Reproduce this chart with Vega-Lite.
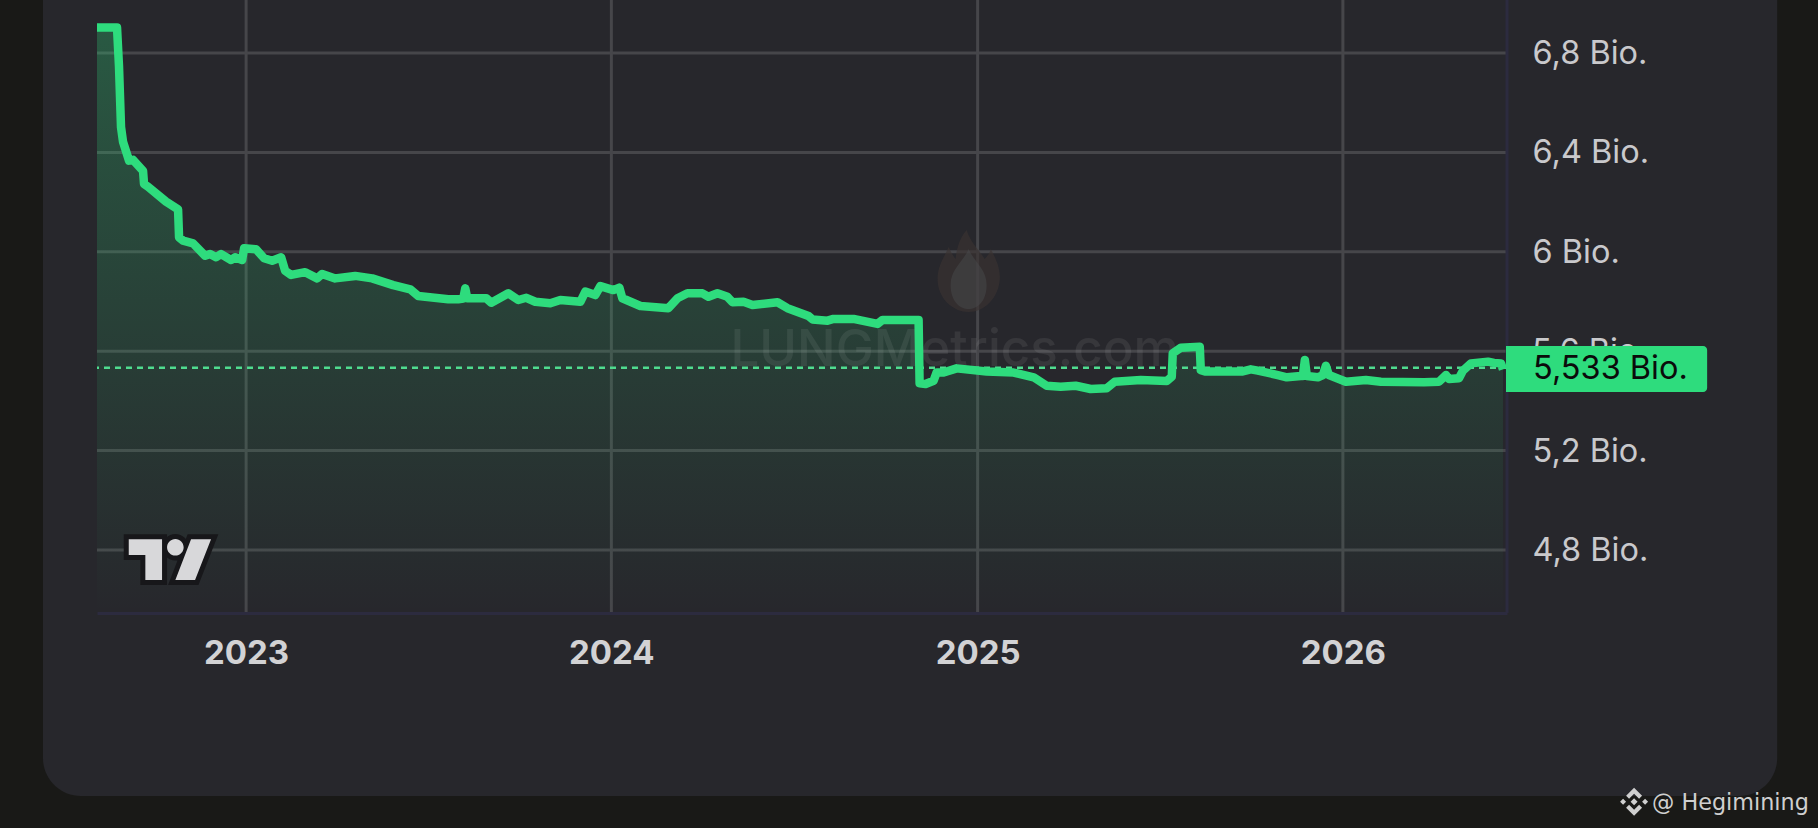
{
  "$schema": "https://vega.github.io/schema/vega-lite/v6.json",
  "width": 1410,
  "height": 613,
  "autosize": {"type": "none"},
  "padding": {"left": 97, "top": 0, "right": 311, "bottom": 215},
  "background": "#191917",
  "view": {"stroke": null},
  "data": {"values": [{}]},
  "datasets": {
    "supply": [
      {"date": "2022-08-05", "supply_bn": 6.903},
      {"date": "2022-08-25", "supply_bn": 6.903},
      {"date": "2022-08-27", "supply_bn": 6.745},
      {"date": "2022-08-29", "supply_bn": 6.502},
      {"date": "2022-08-31", "supply_bn": 6.443},
      {"date": "2022-09-06", "supply_bn": 6.367},
      {"date": "2022-09-10", "supply_bn": 6.37},
      {"date": "2022-09-20", "supply_bn": 6.326},
      {"date": "2022-09-21", "supply_bn": 6.273},
      {"date": "2022-09-25", "supply_bn": 6.262},
      {"date": "2022-10-13", "supply_bn": 6.202},
      {"date": "2022-10-25", "supply_bn": 6.171},
      {"date": "2022-10-26", "supply_bn": 6.058},
      {"date": "2022-10-30", "supply_bn": 6.045},
      {"date": "2022-11-09", "supply_bn": 6.034},
      {"date": "2022-11-21", "supply_bn": 5.984},
      {"date": "2022-11-26", "supply_bn": 5.991},
      {"date": "2022-12-02", "supply_bn": 5.978},
      {"date": "2022-12-07", "supply_bn": 5.991},
      {"date": "2022-12-17", "supply_bn": 5.967},
      {"date": "2022-12-21", "supply_bn": 5.978},
      {"date": "2022-12-28", "supply_bn": 5.967},
      {"date": "2022-12-30", "supply_bn": 6.014},
      {"date": "2023-01-11", "supply_bn": 6.01},
      {"date": "2023-01-19", "supply_bn": 5.974},
      {"date": "2023-01-27", "supply_bn": 5.964},
      {"date": "2023-02-05", "supply_bn": 5.978},
      {"date": "2023-02-09", "supply_bn": 5.924},
      {"date": "2023-02-15", "supply_bn": 5.907},
      {"date": "2023-03-01", "supply_bn": 5.918},
      {"date": "2023-03-13", "supply_bn": 5.893},
      {"date": "2023-03-18", "supply_bn": 5.911},
      {"date": "2023-03-31", "supply_bn": 5.893},
      {"date": "2023-04-20", "supply_bn": 5.903},
      {"date": "2023-05-07", "supply_bn": 5.893},
      {"date": "2023-05-28", "supply_bn": 5.866},
      {"date": "2023-06-14", "supply_bn": 5.849},
      {"date": "2023-06-22", "supply_bn": 5.822},
      {"date": "2023-07-22", "supply_bn": 5.809},
      {"date": "2023-08-01", "supply_bn": 5.809},
      {"date": "2023-08-06", "supply_bn": 5.812},
      {"date": "2023-08-08", "supply_bn": 5.853},
      {"date": "2023-08-10", "supply_bn": 5.813},
      {"date": "2023-08-29", "supply_bn": 5.813},
      {"date": "2023-09-03", "supply_bn": 5.795},
      {"date": "2023-09-20", "supply_bn": 5.833},
      {"date": "2023-09-30", "supply_bn": 5.806},
      {"date": "2023-10-08", "supply_bn": 5.815},
      {"date": "2023-10-17", "supply_bn": 5.799},
      {"date": "2023-11-01", "supply_bn": 5.793},
      {"date": "2023-11-11", "supply_bn": 5.806},
      {"date": "2023-12-01", "supply_bn": 5.799},
      {"date": "2023-12-06", "supply_bn": 5.84},
      {"date": "2023-12-16", "supply_bn": 5.826},
      {"date": "2023-12-21", "supply_bn": 5.862},
      {"date": "2024-01-03", "supply_bn": 5.846},
      {"date": "2024-01-09", "supply_bn": 5.856},
      {"date": "2024-01-12", "supply_bn": 5.813},
      {"date": "2024-01-30", "supply_bn": 5.782},
      {"date": "2024-02-27", "supply_bn": 5.773},
      {"date": "2024-03-07", "supply_bn": 5.813},
      {"date": "2024-03-17", "supply_bn": 5.833},
      {"date": "2024-04-01", "supply_bn": 5.833},
      {"date": "2024-04-07", "supply_bn": 5.819},
      {"date": "2024-04-16", "supply_bn": 5.833},
      {"date": "2024-04-26", "supply_bn": 5.819},
      {"date": "2024-05-01", "supply_bn": 5.797},
      {"date": "2024-05-12", "supply_bn": 5.799},
      {"date": "2024-05-21", "supply_bn": 5.786},
      {"date": "2024-06-15", "supply_bn": 5.797},
      {"date": "2024-06-25", "supply_bn": 5.773},
      {"date": "2024-07-16", "supply_bn": 5.742},
      {"date": "2024-07-20", "supply_bn": 5.728},
      {"date": "2024-08-04", "supply_bn": 5.723},
      {"date": "2024-08-10", "supply_bn": 5.73},
      {"date": "2024-08-30", "supply_bn": 5.73},
      {"date": "2024-09-23", "supply_bn": 5.71},
      {"date": "2024-09-28", "supply_bn": 5.726},
      {"date": "2024-11-03", "supply_bn": 5.726},
      {"date": "2024-11-04", "supply_bn": 5.471},
      {"date": "2024-11-10", "supply_bn": 5.468},
      {"date": "2024-11-18", "supply_bn": 5.481},
      {"date": "2024-11-21", "supply_bn": 5.514},
      {"date": "2024-11-28", "supply_bn": 5.514},
      {"date": "2024-12-11", "supply_bn": 5.531},
      {"date": "2025-01-10", "supply_bn": 5.518},
      {"date": "2025-02-06", "supply_bn": 5.514},
      {"date": "2025-02-26", "supply_bn": 5.495},
      {"date": "2025-03-11", "supply_bn": 5.461},
      {"date": "2025-03-25", "supply_bn": 5.457},
      {"date": "2025-04-09", "supply_bn": 5.461},
      {"date": "2025-04-24", "supply_bn": 5.448},
      {"date": "2025-05-10", "supply_bn": 5.451},
      {"date": "2025-05-18", "supply_bn": 5.477},
      {"date": "2025-06-13", "supply_bn": 5.484},
      {"date": "2025-07-09", "supply_bn": 5.48},
      {"date": "2025-07-14", "supply_bn": 5.497},
      {"date": "2025-07-15", "supply_bn": 5.592},
      {"date": "2025-07-23", "supply_bn": 5.614},
      {"date": "2025-08-11", "supply_bn": 5.618},
      {"date": "2025-08-12", "supply_bn": 5.524},
      {"date": "2025-08-17", "supply_bn": 5.518},
      {"date": "2025-09-22", "supply_bn": 5.518},
      {"date": "2025-10-01", "supply_bn": 5.527},
      {"date": "2025-10-08", "supply_bn": 5.522},
      {"date": "2025-10-28", "supply_bn": 5.504},
      {"date": "2025-11-06", "supply_bn": 5.495},
      {"date": "2025-11-20", "supply_bn": 5.5},
      {"date": "2025-11-22", "supply_bn": 5.5},
      {"date": "2025-11-24", "supply_bn": 5.565},
      {"date": "2025-11-26", "supply_bn": 5.5},
      {"date": "2025-12-07", "supply_bn": 5.495},
      {"date": "2025-12-12", "supply_bn": 5.504},
      {"date": "2025-12-15", "supply_bn": 5.541},
      {"date": "2025-12-18", "supply_bn": 5.504},
      {"date": "2026-01-04", "supply_bn": 5.477},
      {"date": "2026-01-24", "supply_bn": 5.484},
      {"date": "2026-02-08", "supply_bn": 5.477},
      {"date": "2026-03-23", "supply_bn": 5.475},
      {"date": "2026-04-07", "supply_bn": 5.477},
      {"date": "2026-04-14", "supply_bn": 5.504},
      {"date": "2026-04-17", "supply_bn": 5.488},
      {"date": "2026-04-27", "supply_bn": 5.491},
      {"date": "2026-05-01", "supply_bn": 5.522},
      {"date": "2026-05-09", "supply_bn": 5.551},
      {"date": "2026-05-26", "supply_bn": 5.558},
      {"date": "2026-06-01", "supply_bn": 5.553},
      {"date": "2026-06-08", "supply_bn": 5.551},
      {"date": "2026-06-10", "supply_bn": 5.527}
    ],
    "years": [
      {"year": "2023-01-01"},
      {"year": "2024-01-01"},
      {"year": "2025-01-01"},
      {"year": "2026-01-01"}
    ],
    "levels": [
      {"level": 4.8},
      {"level": 5.2},
      {"level": 5.6},
      {"level": 6},
      {"level": 6.4},
      {"level": 6.8}
    ]
  },
  "layer": [
    {
      "mark": {"type": "rect", "fill": "#27272c", "cornerRadius": 38},
      "encoding": {
        "x": {
          "datum": {"year": 2022, "month": 6, "date": 12, "utc": true},
          "type": "temporal",
          "scale": {"type": "utc", "domain": ["2022-08-05", "2026-06-14"]},
          "axis": {
            "title": null,
            "zindex": 1,
            "grid": false,
            "ticks": false,
            "tickCount": "year",
            "labelExpr": "utcFormat(datum.value, '%Y')",
            "labelFont": "Inter",
            "labelFontSize": 33,
            "labelFontWeight": 700,
            "labelColor": "#d2d2d4",
            "labelPadding": 24,
            "labelOverlap": false,
            "labelFlush": false,
            "domainColor": "#2c2b3f",
            "domainWidth": 3
          }
        },
        "x2": {"datum": {"year": 2027, "month": 3, "date": 11, "utc": true}},
        "y": {
          "datum": 7.3,
          "type": "quantitative",
          "scale": {"domain": [4.5465, 7.0133], "zero": false, "nice": false},
          "axis": {
            "title": null,
            "orient": "right",
            "zindex": 1,
            "grid": false,
            "ticks": false,
            "domain": false,
            "values": [4.8, 5.2, 6, 6.4, 6.8],
            "labelExpr": "replace(format(datum.value, '.1~f'), '.', ',') + ' Bio.'",
            "labelFont": "Inter",
            "labelFontSize": 32.5,
            "labelColor": "#c9c9cc",
            "labelPadding": 25,
            "labelOffset": 0.5,
            "labelOverlap": false,
            "labelFlush": false
          }
        },
        "y2": {"datum": 3.81}
      }
    },
    {
      "data": {"name": "levels"},
      "mark": {"type": "rule", "color": "#46464a", "strokeWidth": 3},
      "encoding": {"y": {"field": "level", "type": "quantitative"}}
    },
    {
      "data": {"name": "years"},
      "mark": {"type": "rule", "color": "#46464a", "strokeWidth": 3},
      "encoding": {"x": {"field": "year", "type": "temporal"}}
    },
    {
      "mark": {"type": "rule", "color": "#2c2b3f", "strokeWidth": 3},
      "encoding": {"x": {"datum": {"year": 2026, "month": 6, "date": 14, "utc": true}, "type": "temporal"}}
    },
    {
      "data": {"name": "supply"},
      "mark": {
        "type": "area",
        "line": false,
        "color": {
          "gradient": "linear",
          "x1": 1, "y1": 1, "x2": 1, "y2": 0,
          "stops": [
            {"offset": 0, "color": "rgba(46,220,125,0)"},
            {"offset": 1, "color": "rgba(46,220,125,0.28)"}
          ]
        }
      },
      "encoding": {
        "x": {"field": "date", "type": "temporal"},
        "y": {"field": "supply_bn", "type": "quantitative"},
        "y2": {"datum": 4.5465}
      }
    },
    {
      "mark": {
        "type": "text",
        "text": "LUNGMetrics.com",
        "font": "Inter",
        "fontSize": 51,
        "fontWeight": 500,
        "align": "center",
        "baseline": "middle",
        "color": "#ffffff",
        "opacity": 0.07
      },
      "encoding": {
        "x": {"datum": {"year": 2024, "month": 12, "date": 9, "utc": true}, "type": "temporal"},
        "y": {"datum": 5.6, "type": "quantitative"}
      }
    },
    {
      "mark": {
        "type": "point",
        "shape": "M-2,-41 C2,-28 10,-22 16,-12 C20,-16 22,-20 22,-22 C30,-8 32,2 31,10 C29,28 15,41 0,41 C-15,41 -31,28 -31,8 C-31,-6 -24,-14 -20,-24 C-17,-18 -15,-14 -13,-12 C-12,-24 -8,-34 -2,-41 Z",
        "filled": true,
        "size": 4,
        "color": "#3a3331",
        "opacity": 0.65
      },
      "encoding": {
        "x": {"datum": {"year": 2024, "month": 12, "date": 23, "utc": true}, "type": "temporal"},
        "y": {"datum": 5.923, "type": "quantitative"}
      }
    },
    {
      "mark": {
        "type": "point",
        "shape": "M0,-22 C6,-8 18,-2 18,14 C18,30 9,38 0,38 C-9,38 -18,30 -18,14 C-18,-2 -6,-8 0,-22 Z",
        "filled": true,
        "size": 4,
        "color": "#47494c",
        "opacity": 0.5
      },
      "encoding": {
        "x": {"datum": {"year": 2024, "month": 12, "date": 23, "utc": true}, "type": "temporal"},
        "y": {"datum": 5.923, "type": "quantitative"}
      }
    },
    {
      "mark": {"type": "rule", "color": "#4fdc8f", "strokeWidth": 2.5, "strokeDash": [6, 5]},
      "encoding": {"y": {"datum": 5.533, "type": "quantitative"}}
    },
    {
      "data": {"name": "supply"},
      "mark": {"type": "line", "color": "#2edc7d", "strokeWidth": 8.5, "strokeJoin": "round", "strokeCap": "butt"},
      "encoding": {
        "x": {"field": "date", "type": "temporal"},
        "y": {"field": "supply_bn", "type": "quantitative"}
      }
    },
    {
      "mark": {
        "type": "point",
        "shape": "M-41.3,-20 L-8,-20 L-8,20.7 L-24.7,20.7 L-24.7,-4.3 L-41.3,-4.3 Z M21,-20 L41,-20 L25,20.7 L5.3,20.7 Z M-3,-12 A8.3,8.3 0 1 1 13.6,-12 A8.3,8.3 0 1 1 -3,-12 Z",
        "filled": true,
        "size": 4,
        "fill": "#17171a",
        "stroke": "#17171a",
        "strokeWidth": 10,
        "opacity": 1
      },
      "encoding": {
        "x": {"datum": {"year": 2022, "month": 10, "date": 17, "utc": true}, "type": "temporal"},
        "y": {"datum": 4.763, "type": "quantitative"}
      }
    },
    {
      "mark": {
        "type": "point",
        "shape": "M-41.3,-20 L-8,-20 L-8,20.7 L-24.7,20.7 L-24.7,-4.3 L-41.3,-4.3 Z M21,-20 L41,-20 L25,20.7 L5.3,20.7 Z M-3,-12 A8.3,8.3 0 1 1 13.6,-12 A8.3,8.3 0 1 1 -3,-12 Z",
        "filled": true,
        "size": 4,
        "color": "#d8d8da",
        "opacity": 1
      },
      "encoding": {
        "x": {"datum": {"year": 2022, "month": 10, "date": 17, "utc": true}, "type": "temporal"},
        "y": {"datum": 4.763, "type": "quantitative"}
      }
    },
    {
      "mark": {"type": "text", "text": "5,6 Bio.", "font": "Inter", "fontSize": 32.5, "align": "left", "baseline": "middle", "dy": 0.5, "color": "#c9c9cc"},
      "encoding": {
        "x": {"datum": {"year": 2026, "month": 7, "date": 9, "utc": true}, "type": "temporal"},
        "y": {"datum": 5.6, "type": "quantitative"}
      }
    },
    {
      "mark": {"type": "rect", "fill": "#2edc7d", "cornerRadiusTopRight": 4, "cornerRadiusBottomRight": 4},
      "encoding": {
        "x": {"datum": {"year": 2026, "month": 6, "date": 13, "utc": true}, "type": "temporal"},
        "x2": {"datum": {"year": 2026, "month": 12, "date": 31, "utc": true}},
        "y": {"datum": 5.621, "type": "quantitative"},
        "y2": {"datum": 5.436}
      }
    },
    {
      "mark": {"type": "text", "text": "5,533 Bio.", "font": "Inter", "fontSize": 32.5, "align": "left", "baseline": "middle", "dy": 1, "color": "#0b0b0b"},
      "encoding": {
        "x": {"datum": {"year": 2026, "month": 7, "date": 10, "utc": true}, "type": "temporal"},
        "y": {"datum": 5.533, "type": "quantitative"}
      }
    },
    {
      "mark": {
        "type": "point",
        "shape": "M0,-14 L8,-6 L5,-3 L0,-8 L-5,-3 L-8,-6 Z M0,14 L8,6 L5,3 L0,8 L-5,3 L-8,6 Z M0,-3.5 L3.5,0 L0,3.5 L-3.5,0 Z M-14,0 L-11,-3 L-8,0 L-11,3 Z M14,0 L11,-3 L8,0 L11,3 Z",
        "filled": true,
        "size": 4,
        "color": "#cfcfcf",
        "opacity": 1
      },
      "encoding": {
        "x": {"datum": {"year": 2026, "month": 10, "date": 19, "utc": true}, "type": "temporal"},
        "y": {"datum": 3.787, "type": "quantitative"}
      }
    },
    {
      "mark": {"type": "text", "text": "@ Hegimining", "font": "DejaVu Sans", "fontSize": 22.3, "align": "left", "baseline": "alphabetic", "color": "#cfcfcf"},
      "encoding": {
        "x": {"datum": {"year": 2026, "month": 11, "date": 6, "utc": true}, "type": "temporal"},
        "y": {"datum": 3.754, "type": "quantitative"}
      }
    }
  ]
}
